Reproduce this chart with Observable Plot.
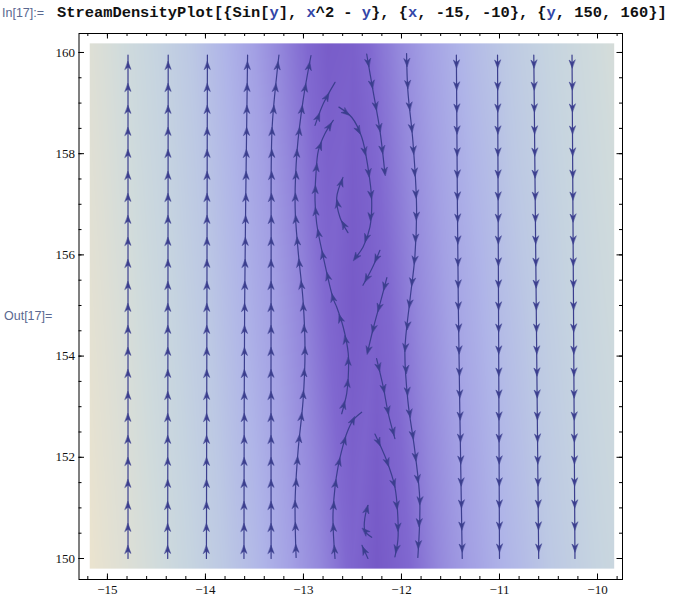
<!DOCTYPE html>
<html><head><meta charset="utf-8">
<script src="https://cdn.jsdelivr.net/npm/d3@7"></script>
<script src="https://cdn.jsdelivr.net/npm/@observablehq/plot@0.6"></script>
<style>
body{margin:0;background:#fff;}
#wrap{position:relative;width:673px;height:600px;overflow:hidden;background:#fff;}
#chart{position:absolute;left:0;top:0;}
.lbl{position:absolute;font-family:"Liberation Sans",Arial,sans-serif;font-size:12.5px;color:#5a6890;white-space:pre;}
#code{position:absolute;left:57px;top:4px;font-family:"Liberation Mono","Courier New",monospace;font-weight:bold;font-size:15.4px;line-height:18px;white-space:pre;color:#111;}
.v{color:#3346a8;}
</style></head><body>
<div id="wrap">
<div id="chart"></div>
<div class="lbl" style="left:2px;top:6px">In[17]:=</div>
<div id="code">StreamDensityPlot[{Sin[<span class="v">y</span>], <span class="v">x</span>^2 - <span class="v">y</span>}, {<span class="v">x</span>, -15, -10}, {<span class="v">y</span>, 150, 160}]</div>
<div class="lbl" style="left:4px;top:309px">Out[17]=</div>
</div>
<script>
// ---------- data ----------
const majorX = [-15, -14, -13, -12, -11, -10];
const majorY = [150, 152, 154, 156, 158, 160];
const minorX = [-15.2,-15,-14.8,-14.6,-14.4,-14.2,-14,-13.8,-13.6,-13.4,-13.2,-13,-12.8,-12.6,-12.4,-12.2,-12,-11.8,-11.6,-11.4,-11.2,-11,-10.8,-10.6,-10.4,-10.2,-10,-9.8];
const minorY = [150,150.5,151,151.5,152,152.5,153,153.5,154,154.5,155,155.5,156,156.5,157,157.5,158,158.5,159,159.5,160];

// density (field magnitude) sampled on a coarse grid
const densityX = [-15.18,-15,-14.75,-14.5,-14.25,-14,-13.75,-13.5,-13.25,-13,-12.75,-12.5,-12.25,-12,-11.75,-11.5,-11.25,-11,-10.75,-10.5,-10.25,-10,-9.83];
const densityY = [149.8, 155, 160.18];
const densityBottom = [81,75,68,61,53,46,39,33,26,19,13,6.5,0.5,6,12,18,23,29,34,40,45,50,53];
const densityMiddle = [75,70,63,55,48,41,34,27,21,14,7.6,1.3,5,11,17,23,28,34,39,45,50,55,58];
const densityTop    = [70,65,57,50,43,36,29,22,15,9,2.4,4,10,16,22,28,34,39,45,50,55,60,64];

// streamlines, points listed in flow direction
const leftLines = [
  [[-14.79,150.0],[-14.79,159.95]],
  [[-14.385,150.0],[-14.38,159.95]],
  [[-13.99,150.0],[-13.98,159.95]],
  [[-13.607,150.0],[-13.6,155],[-13.57,159.95]],
  [[-13.33,150.0],[-13.33,156.0],[-13.32,158.5],[-13.27,159.6],[-13.25,159.95]]
];
const rightLines = [
  [[-11.44,159.95],[-11.42,155],[-11.38,150.0]],
  [[-11.02,159.95],[-11.0,150.0]],
  [[-10.65,159.95],[-10.6,150.0]],
  [[-10.26,159.95],[-10.23,150.0]]
];
const lineA = [[-13.075,150.02],[-13.085,151.15],[-13.055,152.13],[-13.004,153.12],[-12.984,154.11],[-13.004,155.10],[-13.055,156.09],[-13.085,156.94],[-13.065,158.06],[-13.004,159.05],[-12.923,159.94]];
const lineB = [[-12.678,150.0],[-12.699,150.82],[-12.678,151.41],[-12.648,151.8],[-12.61,152.13],[-12.559,152.47],[-12.495,152.73],[-12.406,152.89]];
const lineC = [[-12.61,152.86],[-12.559,153.26],[-12.543,153.58],[-12.543,154.05],[-12.594,154.57],[-12.661,154.97],[-12.696,155.13],[-12.797,155.95],[-12.865,156.62],[-12.882,157.08],[-12.872,157.61],[-12.848,158.06],[-12.78,158.4],[-12.696,158.66]];
const lineG = [[-12.882,158.56],[-12.797,158.99],[-12.678,159.41]];
const lineD = [[-12.638,158.92],[-12.508,158.72],[-12.406,158.33],[-12.342,157.73],[-12.304,157.08],[-12.322,156.55],[-12.393,156.15],[-12.475,155.93]];
const lineH = [[-12.546,156.44],[-12.627,156.74],[-12.661,157.13],[-12.597,157.53]];
const lineE = [[-12.355,159.97],[-12.291,159.25],[-12.22,158.46],[-12.169,157.61]];
const lineF = [[-11.948,159.98],[-11.935,159.25],[-11.884,158.26],[-11.846,156.94],[-11.864,155.95],[-11.914,155.1],[-11.965,154.11],[-11.935,153.12],[-11.864,152.13],[-11.813,151.15],[-11.833,150.02]];
const lineI = [[-12.22,156.09],[-12.301,155.73],[-12.393,155.40]];
const lineJ = [[-12.149,155.55],[-12.21,155.1],[-12.281,154.6],[-12.342,154.11]];
const lineK = [[-12.254,153.95],[-12.186,153.39],[-12.135,152.87],[-12.067,152.37]];
const lineL = [[-12.271,152.46],[-12.152,151.94],[-12.067,151.41],[-12.037,150.82],[-12.037,150.36],[-12.067,150.03]];
const lineM = [[-12.304,150.42],[-12.373,150.55],[-12.373,150.81],[-12.342,151.05]];
const lineN = [[-12.342,150.0],[-12.403,150.26]];

// colour ramp (magnitude -> colour)
const colorStops = [0, 8, 15, 22, 30, 40, 50, 60, 70, 80];
const colorRamp = ["#7558c6","#8068d0","#9488dc","#a3a0e4","#afb4e8","#bcc8e4","#c6d4e0","#d0dbdc","#dedfd5","#eae3cf"];

// ---------- layout / style ----------
const W = 673, H = 600;
const mL = 78.5, mR = 51, mT = 33, mB = 21;
const xDomain = [-15.29, -9.745];
const yDomain = [149.585, 160.375];
const streamColor = "#3b3e8e";
const frameW = W - mL - mR, frameH = H - mT - mB;

// ---------- build ----------
const densityRows = [densityBottom, densityMiddle, densityTop];
const grid = [];
densityY.forEach((y, j) => densityX.forEach((x, i) => grid.push({x, y, v: densityRows[j][i]})));

const allLines = [...leftLines, ...rightLines, lineA, lineB, lineC, lineG, lineD, lineH, lineE, lineF, lineI, lineJ, lineK, lineL, lineM, lineN];
const linePts = allLines.flatMap((l, id) => l.map(([x, y]) => ({x, y, id})));

const xs = d3.scaleLinear(xDomain, [mL, W - mR]);
const ys = d3.scaleLinear(yDomain, [H - mB, mT]);
function arrowsFor(line, spacing, offset) {
  const pts = line.map(([x, y]) => [xs(x), ys(y)]);
  const out = [];
  let acc = 0, next = offset;
  for (let i = 1; i < pts.length; i++) {
    const [x0, y0] = pts[i - 1], [x1, y1] = pts[i];
    const seg = Math.hypot(x1 - x0, y1 - y0);
    while (next <= acc + seg) {
      const t = (next - acc) / seg;
      out.push({
        x: line[i - 1][0] + t * (line[i][0] - line[i - 1][0]),
        y: line[i - 1][1] + t * (line[i][1] - line[i - 1][1]),
        a: Math.atan2(x1 - x0, -(y1 - y0)) * 180 / Math.PI
      });
      next += spacing;
    }
    acc += seg;
  }
  return out;
}
const arrows = allLines.flatMap(l => arrowsFor(l, 22, 9));

const arrowShape = {
  draw(context, l, r) {
    context.moveTo(0, -l);
    context.lineTo(r, 0);
    context.lineTo(0, -l * 0.3);
    context.lineTo(-r, 0);
    context.closePath();
  }
};
const fmt = d => d < 0 ? "\u2212" + Math.abs(d) : String(d);
const tickFont = {fontSize: 13, fontFamily: "'Liberation Serif', 'DejaVu Serif', serif"};

const plot = Plot.plot({
  width: W, height: H,
  marginLeft: mL, marginRight: mR, marginTop: mT, marginBottom: mB,
  x: {domain: xDomain, label: null},
  y: {domain: yDomain, label: null},
  color: {type: "linear", domain: colorStops, range: colorRamp, clamp: true},
  style: {background: "transparent", color: "#111"},
  marks: [
    Plot.raster(grid, {x: "x", y: "y", fill: "v", interpolate: "barycentric",
      x1: densityX[0], x2: densityX[densityX.length - 1], y1: densityY[0], y2: densityY[densityY.length - 1], pixelSize: 1}),
    Plot.line(linePts, {x: "x", y: "y", z: "id", curve: "catmull-rom", stroke: streamColor, strokeWidth: 1.2}),
    Plot.vector(arrows, {x: "x", y: "y", rotate: "a", length: 8, r: 3, anchor: "middle", shape: arrowShape,
      fill: streamColor, stroke: streamColor, strokeWidth: 0.5}),
    Plot.frame({stroke: "#000", strokeWidth: 1}),
    Plot.tickX(minorX, {x: d => d, insetTop: frameH - 3, stroke: "#000"}),
    Plot.tickX(minorX, {x: d => d, insetBottom: frameH - 3, stroke: "#000"}),
    Plot.tickX(majorX, {x: d => d, insetTop: frameH - 5.5, stroke: "#000"}),
    Plot.tickX(majorX, {x: d => d, insetBottom: frameH - 5.5, stroke: "#000"}),
    Plot.tickY(minorY, {y: d => d, insetRight: frameW - 3, stroke: "#000"}),
    Plot.tickY(minorY, {y: d => d, insetLeft: frameW - 3, stroke: "#000"}),
    Plot.tickY(majorY, {y: d => d, insetRight: frameW - 5.5, stroke: "#000"}),
    Plot.tickY(majorY, {y: d => d, insetLeft: frameW - 5.5, stroke: "#000"}),
    Plot.axisX(majorX, {tickSize: 0, tickPadding: 5, tickFormat: fmt, label: null, ...tickFont}),
    Plot.axisY(majorY, {tickSize: 0, tickPadding: 4, tickFormat: fmt, label: null, ...tickFont})
  ]
});
document.getElementById("chart").appendChild(plot);
</script>
</body></html>
